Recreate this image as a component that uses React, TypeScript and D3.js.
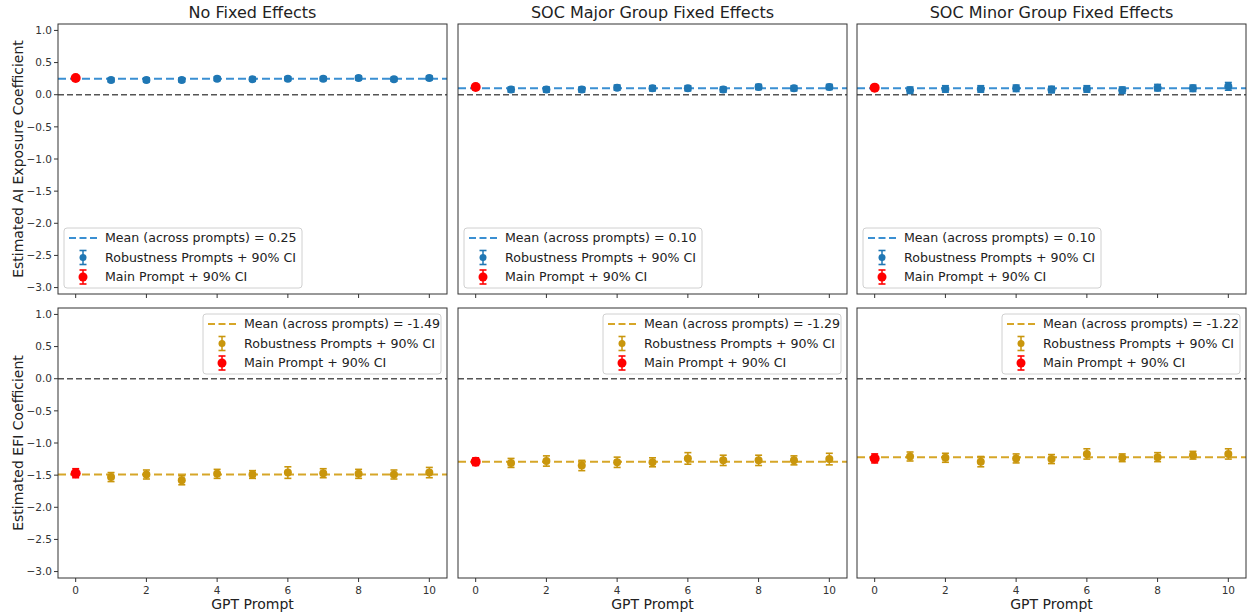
import React from "react";
import { scaleLinear, range } from "d3";

// x positions: prompt 0 is the main prompt, 1-10 are robustness prompts
const prompts = [0, 1, 2, 3, 4, 5, 6, 7, 8, 9, 10];
const panelTitles = ["No Fixed Effects", "SOC Major Group Fixed Effects", "SOC Minor Group Fixed Effects"];
const rowLabels = ["Estimated AI Exposure Coefficient", "Estimated EFI Coefficient"];

// AI exposure coefficients (top row)
const aiNoFE = [0.26, 0.23, 0.23, 0.23, 0.25, 0.24, 0.25, 0.25, 0.26, 0.24, 0.26];
const aiNoFECI = [0.03, 0.03, 0.03, 0.03, 0.03, 0.03, 0.03, 0.03, 0.03, 0.03, 0.03];
const aiMajor = [0.12, 0.08, 0.08, 0.08, 0.11, 0.10, 0.10, 0.08, 0.12, 0.10, 0.12];
const aiMajorCI = [0.04, 0.04, 0.04, 0.04, 0.04, 0.04, 0.04, 0.04, 0.04, 0.04, 0.04];
const aiMinor = [0.11, 0.07, 0.09, 0.09, 0.10, 0.08, 0.09, 0.07, 0.11, 0.10, 0.13];
const aiMinorCI = [0.04, 0.05, 0.05, 0.05, 0.05, 0.05, 0.05, 0.05, 0.05, 0.05, 0.06];
const aiMeans = [0.25, 0.1, 0.1];

// EFI coefficients (bottom row)
const efiNoFE = [-1.47, -1.53, -1.49, -1.58, -1.48, -1.49, -1.46, -1.47, -1.48, -1.49, -1.46];
const efiNoFECI = [0.07, 0.07, 0.07, 0.07, 0.07, 0.06, 0.09, 0.07, 0.07, 0.07, 0.08];
const efiMajor = [-1.29, -1.31, -1.28, -1.35, -1.30, -1.30, -1.24, -1.27, -1.27, -1.27, -1.25];
const efiMajorCI = [0.06, 0.07, 0.08, 0.08, 0.08, 0.07, 0.09, 0.08, 0.08, 0.07, 0.09];
const efiMinor = [-1.24, -1.21, -1.23, -1.29, -1.24, -1.25, -1.17, -1.23, -1.22, -1.19, -1.17];
const efiMinorCI = [0.07, 0.07, 0.07, 0.08, 0.07, 0.07, 0.08, 0.06, 0.07, 0.06, 0.08];
const efiMeans = [-1.49, -1.29, -1.22];

const xTicks = [0, 2, 4, 6, 8, 10];
const yTicks = range(-3, 1.01, 0.5);

const BLUE = "#1f77b4";
const GOLD = "#c9960c";
const RED = "#ff0000";
const FONT = "DejaVu Sans, sans-serif";

const width = 1247;
const height = 616;
const colX = [58, 458, 857];
const panelW = 389;
const rowY = [24, 308];
const panelH = 270;
const legendW = 238;

const rows = [
  { vals: [aiNoFE, aiMajor, aiMinor], ci: [aiNoFECI, aiMajorCI, aiMinorCI], means: aiMeans, color: BLUE, meanColor: "#3a8fd2", legendPos: "ll" },
  { vals: [efiNoFE, efiMajor, efiMinor], ci: [efiNoFECI, efiMajorCI, efiMinorCI], means: efiMeans, color: GOLD, meanColor: "#d6a628", legendPos: "ur" },
];

const fmtTick = (v: number) => (v < 0 ? "\u2212" + Math.abs(v).toFixed(1) : v.toFixed(1));

const ErrPoint = ({ x, y0, y1, yc, color, r }: any) => (
  <g>
    <line x1={x} x2={x} y1={y0} y2={y1} stroke={color} strokeWidth={1.5} />
    <line x1={x - 3.5} x2={x + 3.5} y1={y0} y2={y0} stroke={color} strokeWidth={1.6} />
    <line x1={x - 3.5} x2={x + 3.5} y1={y1} y2={y1} stroke={color} strokeWidth={1.6} />
    <circle cx={x} cy={yc} r={r} fill={color} />
  </g>
);

const Legend = ({ x, y, mean, color, meanColor }: any) => {
  const rowH = 19.5;
  const labels = [
    `Mean (across prompts) = ${mean.toFixed(2)}`,
    "Robustness Prompts + 90% CI",
    "Main Prompt + 90% CI",
  ];
  return (
    <g transform={`translate(${x},${y})`}>
      <rect width={legendW} height={60} rx={3} fill="white" fillOpacity={0.8} stroke="#d0d0d0" />
      {labels.map((l, i) => {
        const cy = 10 + i * rowH;
        const hx = 19;
        return (
          <g key={i}>
            {i === 0 ? (
              <line x1={5} x2={33} y1={cy} y2={cy} stroke={meanColor} strokeWidth={2} strokeDasharray="7,3.5" />
            ) : (
              <ErrPoint x={hx} y0={cy - 7} y1={cy + 7} yc={cy} color={i === 1 ? color : RED} r={i === 1 ? 3.5 : 4.5} />
            )}
            <text x={41} y={cy} dy="0.35em" fontSize={12.6} fontFamily={FONT} fill="#222">
              {l}
            </text>
          </g>
        );
      })}
    </g>
  );
};

export default function App() {
  return (
    <svg width={width} height={height} style={{ position: "absolute", left: 0, top: 0, background: "white" }}>
      {rows.map((row, ri) => {
        const y = scaleLinear().domain([-3.1, 1.1]).range([rowY[ri] + panelH, rowY[ri]]);
        return (
          <g key={ri}>
            <text
              transform={`translate(${18},${rowY[ri] + panelH / 2}) rotate(-90)`}
              textAnchor="middle"
              dy="0.35em"
              fontSize={14}
              fontFamily={FONT}
              fill="#222"
            >
              {rowLabels[ri]}
            </text>
            {colX.map((cx, ci) => {
              const x = scaleLinear().domain([-0.5, 10.5]).range([cx, cx + panelW]);
              const vals = row.vals[ci];
              const cis = row.ci[ci];
              const mean = row.means[ci];
              const legendX = row.legendPos === "ll" ? cx + 6 : cx + panelW - 6 - legendW;
              const legendY = row.legendPos === "ll" ? rowY[ri] + panelH - 6 - 60 : rowY[ri] + 6;
              return (
                <g key={ci}>
                  {ri === 0 && (
                    <text x={cx + panelW / 2} y={18} textAnchor="middle" fontSize={16} fontFamily={FONT} fill="#222">
                      {panelTitles[ci]}
                    </text>
                  )}
                  {/* zero reference */}
                  <line x1={cx} x2={cx + panelW} y1={y(0)} y2={y(0)} stroke="#555" strokeWidth={1.5} strokeDasharray="6,3" />
                  {/* mean across prompts */}
                  <line x1={cx} x2={cx + panelW} y1={y(mean)} y2={y(mean)} stroke={row.meanColor} strokeWidth={2} strokeDasharray="8,4" />
                  {prompts.map((p, i) => (
                    <ErrPoint
                      key={p}
                      x={x(p)}
                      y0={y(vals[i] + cis[i])}
                      y1={y(vals[i] - cis[i])}
                      yc={y(vals[i])}
                      color={i === 0 ? RED : row.color}
                      r={i === 0 ? 5 : 4}
                    />
                  ))}
                  <rect x={cx} y={rowY[ri]} width={panelW} height={panelH} fill="none" stroke="#333" strokeWidth={1} />
                  {xTicks.map((t) => (
                    <g key={t}>
                      <line x1={x(t)} x2={x(t)} y1={rowY[ri] + panelH} y2={rowY[ri] + panelH + 4} stroke="#333" />
                      {ri === 1 && (
                        <text x={x(t)} y={rowY[ri] + panelH + 16} textAnchor="middle" fontSize={10.5} fontFamily={FONT} fill="#333">
                          {t}
                        </text>
                      )}
                    </g>
                  ))}
                  {ci === 0 &&
                    yTicks.map((t) => (
                      <g key={t}>
                        <line x1={cx - 4} x2={cx} y1={y(t)} y2={y(t)} stroke="#333" />
                        <text x={cx - 6} y={y(t)} dy="0.35em" textAnchor="end" fontSize={10.5} fontFamily={FONT} fill="#333">
                          {fmtTick(t)}
                        </text>
                      </g>
                    ))}
                  {ri === 1 && (
                    <text x={cx + panelW / 2} y={609} textAnchor="middle" fontSize={14} fontFamily={FONT} fill="#222">
                      GPT Prompt
                    </text>
                  )}
                  <Legend x={legendX} y={legendY} mean={mean} color={row.color} meanColor={row.meanColor} />
                </g>
              );
            })}
          </g>
        );
      })}
    </svg>
  );
}
